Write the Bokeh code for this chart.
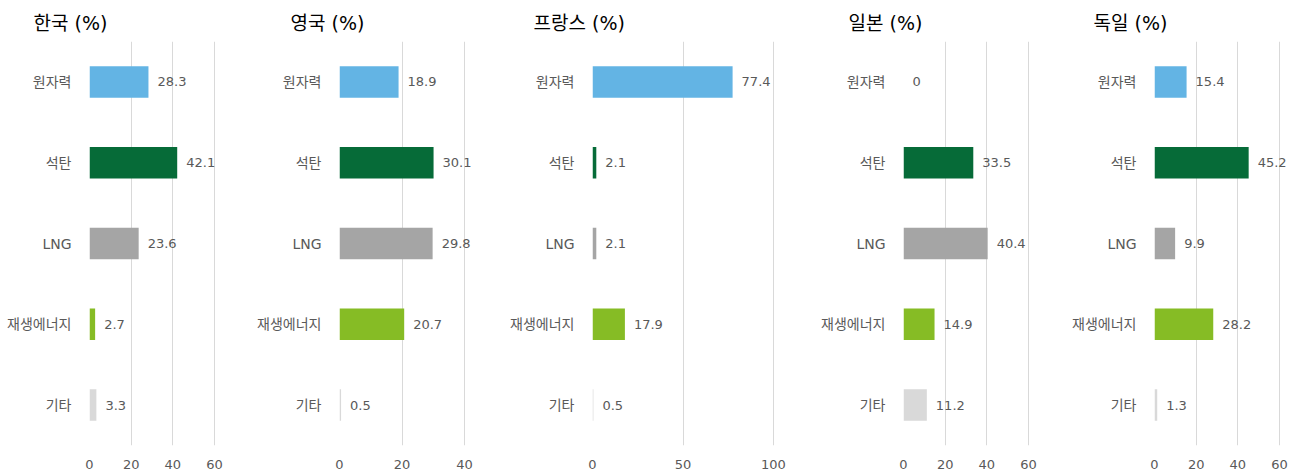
from bokeh.plotting import figure
from bokeh.layouts import row
from bokeh.models import Range1d, FixedTicker
from bokeh.core.properties import value
from bokeh.embed import file_html
from bokeh.resources import INLINE

# ---- data ----
categories = ["원자력", "석탄", "LNG", "재생에너지", "기타"]
titles = ["한국 (%)", "영국  (%)", "프랑스 (%)", "일본 (%)", "독일 (%)"]
korea = [28.3, 42.1, 23.6, 2.7, 3.3]
uk = [18.9, 30.1, 29.8, 20.7, 0.5]
france = [77.4, 2.1, 2.1, 17.9, 0.5]
japan = [0, 33.5, 40.4, 14.9, 11.2]
germany = [15.4, 45.2, 9.9, 28.2, 1.3]
series = [korea, uk, france, japan, germany]
axis_ticks = [[0, 20, 40, 60], [0, 20, 40], [0, 50, 100], [0, 20, 40, 60], [0, 20, 40, 60]]
colors = ["#63B4E4", "#066B38", "#A5A5A5", "#86BC25", "#D9D9D9"]

# ---- layout / style ----
FONT = "'DejaVu Sans', 'Noto Sans CJK KR', sans-serif"
frame_w = [125, 125, 181, 125, 125]     # pixel width for the tick span
extra_w = [20, 20, 20, 20, 11]          # room for labels past last tick
border_l = [89, 92, 92, 92, 92]
border_r = [13, 16, 18, 14, 0]
title_off = [-56, -49, -59, -55, -61]

figs = []
for i in range(5):
    vals = series[i]
    tmax = axis_ticks[i][-1]
    scale = frame_w[i] / tmax
    xmax = tmax + extra_w[i] / scale
    p = figure(
        y_range=list(reversed(categories)),
        x_range=Range1d(0, xmax),
        frame_width=frame_w[i] + extra_w[i],
        frame_height=404,
        min_border_left=border_l[i],
        min_border_right=border_r[i],
        min_border_top=41,
        min_border_bottom=25,
        output_backend="svg",
        toolbar_location=None,
        title=titles[i],
    )
    p.title.text_font = FONT
    p.title.text_font_size = "19px"
    p.title.text_font_style = "normal"
    p.title.text_color = "#000000"
    p.title.offset = title_off[i]
    p.title.standoff = 16

    p.hbar(y=categories, left=0, right=vals, height=0.39, color=colors,
           line_color=None)
    labels = [f"{v:g}" for v in vals]
    p.text(x=vals, y=categories, text=labels, x_offset=9,
           text_align="left", text_baseline="middle",
           text_font=value(FONT), text_font_size="13px", text_color="#595959")

    p.outline_line_color = None
    p.background_fill_color = "white"
    p.border_fill_color = "white"
    p.ygrid.grid_line_color = None
    p.xgrid.grid_line_color = "#D9D9D9"
    p.xgrid.grid_line_width = 1
    p.xaxis.ticker = FixedTicker(ticks=axis_ticks[i])
    p.xaxis.axis_line_color = None
    p.xaxis.major_tick_line_color = None
    p.xaxis.minor_tick_line_color = None
    p.xaxis.major_label_standoff = 8
    p.xaxis.major_label_text_font = FONT
    p.xaxis.major_label_text_font_size = "13px"
    p.xaxis.major_label_text_color = "#595959"

    p.yaxis.axis_line_color = None
    p.yaxis.major_tick_line_color = None
    p.yaxis.minor_tick_line_color = None
    p.yaxis.major_label_standoff = 12
    p.yaxis.major_label_text_font = FONT
    p.yaxis.major_label_text_font_size = "14px"
    p.yaxis.major_label_text_color = "#595959"
    p.y_range.range_padding = 0
    figs.append(p)

layout = row(*figs, spacing=0)
open("out.html", "w").write(file_html(layout, INLINE))
